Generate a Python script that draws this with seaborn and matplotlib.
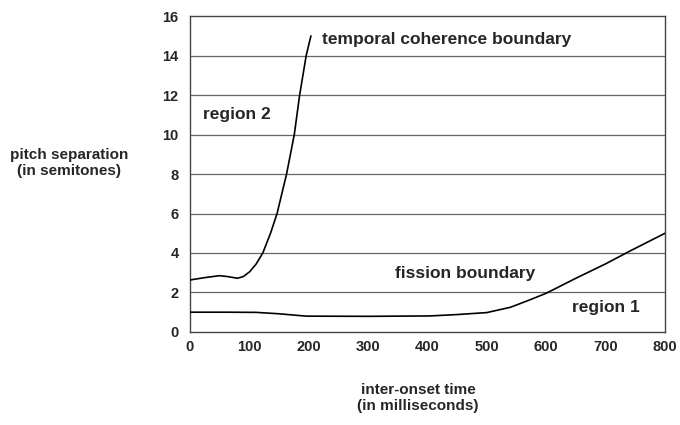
import numpy as np
import pandas as pd
import matplotlib
matplotlib.use("Agg")
import matplotlib.pyplot as plt
import seaborn as sns

# temporal coherence boundary
tc_x = [0, 25, 50, 65, 80, 90, 101, 112, 123, 136, 147, 163, 176, 185, 196, 204]
tc_y = [2.63, 2.75, 2.85, 2.8, 2.72, 2.8, 3.05, 3.45, 4.0, 5.0, 6.0, 8.0, 10.0, 12.0, 14.0, 15.0]

# fission boundary
fb_x = [0, 60, 112, 150, 196, 300, 404, 450, 500, 540, 572, 600, 650, 700, 741, 800]
fb_y = [1.0, 1.0, 0.99, 0.92, 0.8, 0.79, 0.81, 0.88, 0.98, 1.25, 1.62, 1.96, 2.72, 3.45, 4.1, 5.0]

x_ticks = [0, 100, 200, 300, 400, 500, 600, 700, 800]
y_ticks = [0, 2, 4, 6, 8, 10, 12, 14, 16]

df = pd.concat([
    pd.DataFrame({"x": tc_x, "y": tc_y, "curve": "temporal"}),
    pd.DataFrame({"x": fb_x, "y": fb_y, "curve": "fission"}),
])

sns.set_style("white")
plt.rcParams["font.family"] = ["Liberation Sans", "DejaVu Sans"]
plt.rcParams["font.weight"] = "bold"

fig = plt.figure(figsize=(6.8, 4.25), dpi=100)
ax = fig.add_axes([0.279, 0.219, 0.699, 0.743])

for y in y_ticks[1:-1]:
    ax.axhline(y, color="#666666", lw=0.9, zorder=1)

sns.lineplot(data=df, x="x", y="y", units="curve", estimator=None,
             color="black", lw=1.2, sort=False, ax=ax, zorder=3)

ax.set_xlim(0, 800)
ax.set_ylim(0, 16)
ax.set_xticks(x_ticks)
ax.set_yticks(y_ticks)
ax.set_xticklabels([str(v) for v in x_ticks], fontsize=10.5, fontweight="bold")
ax.set_yticklabels([str(v) for v in y_ticks], fontsize=10.5, fontweight="bold")
ax.tick_params(axis="x", direction="in", length=5, width=0.8, pad=6, color="#444444")
ax.tick_params(axis="y", length=0, pad=8)
for s in ax.spines.values():
    s.set_color("#444444")
    s.set_linewidth(1.0)

ax.set_xlabel("")
ax.set_ylabel("")

fs = 12.5
ax.text(222, 14.8, "temporal coherence boundary", fontsize=fs, fontweight="bold", va="center")
ax.text(22, 11.0, "region 2", fontsize=fs, fontweight="bold", va="center")
ax.text(345, 2.95, "fission boundary", fontsize=fs, fontweight="bold", va="center")
ax.text(643, 1.25, "region 1", fontsize=fs, fontweight="bold", va="center")

fig.text(69 / 680, 1 - 163 / 425, "pitch separation\n(in semitones)", fontsize=11,
         fontweight="bold", ha="center", va="center", linespacing=1.15)
fig.text(418 / 680, 1 - 398 / 425, "inter-onset time\n(in milliseconds)", fontsize=11,
         fontweight="bold", ha="center", va="center", linespacing=1.15)

fig.savefig("out.png", dpi=100)
